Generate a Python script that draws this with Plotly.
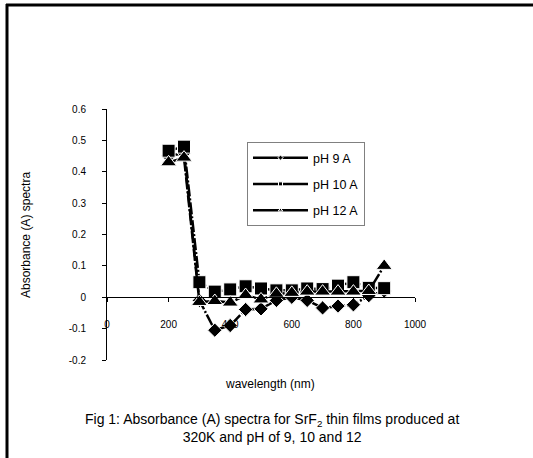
import plotly.graph_objects as go

wavelength = [200, 250, 300, 350, 400, 450, 500, 550, 600, 650, 700, 750, 800, 850, 900]
ph9 = [0.45, 0.46, -0.01, -0.105, -0.09, -0.039, -0.037, -0.01, 0.0, -0.01, -0.034, -0.028, -0.024, 0.005, 0.02]
ph10 = [0.467, 0.48, 0.048, 0.018, 0.025, 0.035, 0.028, 0.022, 0.022, 0.028, 0.026, 0.037, 0.048, 0.03, 0.029]
ph12 = [0.43, 0.445, -0.015, -0.012, -0.017, 0.007, -0.007, 0.011, 0.014, 0.018, 0.018, 0.018, 0.018, 0.02, 0.1]

names = ["pH 9 A", "pH 10 A", "pH 12 A"]
series = [ph9, ph10, ph12]
symbols = ["diamond", "square", "triangle-up"]
sizes = [11, 13, 14]

y_ticks = [-0.2, -0.1, 0, 0.1, 0.2, 0.3, 0.4, 0.5, 0.6]
y_ticktext = ["-0.2", "-0.1", "0", "0.1", "0.2", "0.3", "0.4", "0.5", "0.6"]
x_ticks = [0, 200, 400, 600, 800, 1000]

W, H = 533, 458
L, R, T, B = 107, 415, 109, 360


def px(x):
    return (x - L) / (R - L)


def py(y):
    return (B - y) / (B - T)


FONT = "Arial, 'Liberation Sans', sans-serif"

fig = go.Figure()
for name, vals, sym, sz in zip(names, series, symbols, sizes):
    fig.add_trace(go.Scatter(
        x=wavelength, y=vals, mode="lines+markers", showlegend=False,
        line=dict(color="black", width=2.5, dash="12px,2px,2px,2px"),
        marker=dict(symbol=sym, size=sz, color="black",
                    line=dict(color="white", width=1)),
    ))
for i, (name, sym) in enumerate(zip(names, symbols)):
    fig.add_trace(go.Scatter(
        x=[None], y=[None], mode="lines+markers", name=name,
        legendgroup=f"g{i}",
        line=dict(color="black", width=2.5),
        marker=dict(symbol=sym, size=4, color="black",
                    line=dict(color="white", width=1)),
    ))

fig.update_layout(
    width=W, height=H, autosize=False,
    margin=dict(l=L, r=W - R, t=T, b=H - B, pad=0),
    paper_bgcolor="white", plot_bgcolor="white",
    font=dict(family=FONT, size=10, color="black"),
    showlegend=True,
    legend=dict(x=px(247), y=py(142), xanchor="left", yanchor="top",
                bordercolor="#808080", borderwidth=1, bgcolor="white",
                font=dict(size=12.5, family=FONT, color="black"),
                tracegroupgap=7, itemwidth=55),
    xaxis=dict(range=[0, 1000], tickvals=x_ticks, showline=True,
               linecolor="black", linewidth=1, ticks="outside", ticklen=4,
               tickcolor="black", showgrid=False, zeroline=False,
               anchor="free", position=0.25, ticklabelstandoff=14,
               tickfont=dict(size=10, family=FONT, color="black")),
    yaxis=dict(range=[-0.2, 0.6], tickvals=y_ticks, ticktext=y_ticktext,
               showline=True, linecolor="black", linewidth=1,
               ticks="outside", ticklen=4, tickcolor="black",
               showgrid=False, zeroline=False, ticklabelstandoff=14,
               tickfont=dict(size=10, family=FONT, color="black")),
    annotations=[
        dict(text="Absorbance (A) spectra", textangle=-90, x=px(26), y=py(235),
             xref="paper", yref="paper", showarrow=False,
             xanchor="center", yanchor="middle",
             font=dict(size=12, family=FONT, color="black")),
        dict(text="wavelength (nm)", x=px(270), y=py(384),
             xref="paper", yref="paper", showarrow=False,
             xanchor="center", yanchor="middle",
             font=dict(size=12, family=FONT, color="black")),
        dict(text="Fig 1: Absorbance (A) spectra for SrF<sub>2</sub> thin films produced at<br>320K and pH of 9, 10 and 12",
             x=px(272), y=py(428), xref="paper", yref="paper", showarrow=False,
             xanchor="center", yanchor="middle", align="center",
             font=dict(size=14, family=FONT, color="black")),
    ],
    shapes=[
        dict(type="line", xref="paper", yref="paper", x0=px(6), x1=px(540),
             y0=py(5), y1=py(5), line=dict(color="black", width=3)),
        dict(type="line", xref="paper", yref="paper", x0=px(7), x1=px(7),
             y0=py(4), y1=py(470), line=dict(color="black", width=3)),
    ],
)

fig.write_html("out.html")
